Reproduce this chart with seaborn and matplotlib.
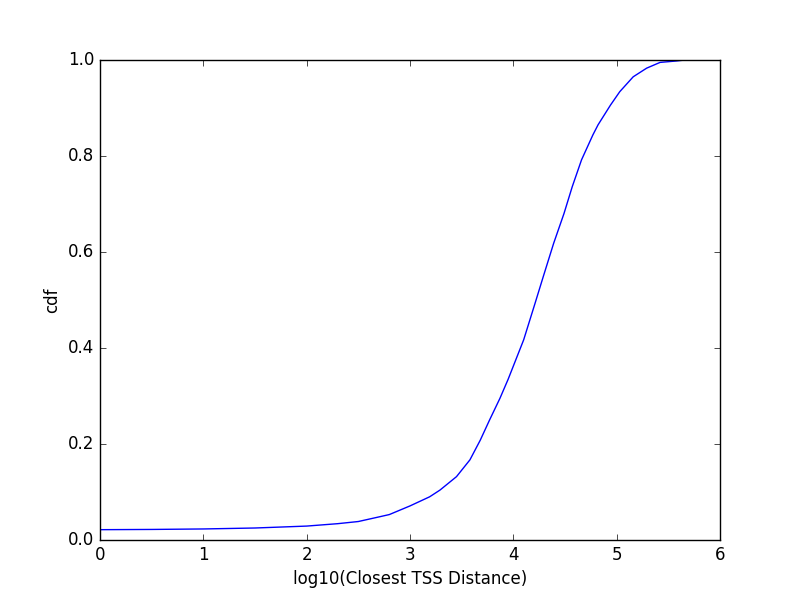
import pandas as pd
import seaborn as sns
import matplotlib
matplotlib.use("Agg")
import matplotlib.pyplot as plt

# cdf of log10 closest TSS distance
log_dist = [0.0, 0.5, 1.0, 1.5, 2.0, 2.3, 2.5, 2.71, 2.8, 3.0, 3.19, 3.29,
            3.45, 3.58, 3.68, 3.77, 3.87, 3.95, 4.1, 4.21, 4.29, 4.39, 4.49,
            4.57, 4.66, 4.77, 4.82, 4.94, 5.03, 5.16, 5.29, 5.42, 5.58, 5.64,
            5.75]
cdf = [0.0215, 0.022, 0.023, 0.025, 0.029, 0.034, 0.0385, 0.0486, 0.053,
       0.071, 0.09, 0.104, 0.132, 0.167, 0.208, 0.25, 0.295, 0.335, 0.417,
       0.493, 0.549, 0.618, 0.68, 0.736, 0.792, 0.844, 0.865, 0.906, 0.934,
       0.965, 0.983, 0.995, 0.998, 0.9995, 1.0]

df = pd.DataFrame({"log_dist": log_dist, "cdf": cdf})

plt.style.use("classic")
fig, ax = plt.subplots(figsize=(8, 6), dpi=100)

sns.lineplot(data=df, x="log_dist", y="cdf", color="b", linewidth=1, ax=ax)

ax.set_xlim(0, 6)
ax.set_ylim(0, 1)
ax.set_xlabel("log10(Closest TSS Distance)")
ax.set_ylabel("cdf")

fig.savefig("out.png", dpi=100)
